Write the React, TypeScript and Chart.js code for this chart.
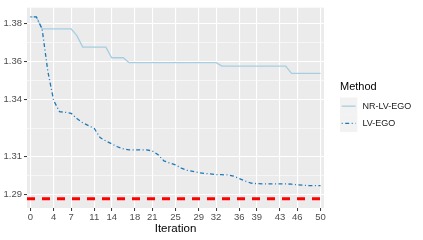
import React, { useEffect, useRef } from "react";
import { Chart, registerables } from "chart.js";

Chart.register(...registerables);

const iterations = [
  0, 1, 2, 3, 4, 5, 6, 7, 8, 9, 10, 11, 12, 13, 14, 15, 16, 17, 18, 19, 20,
  21, 22, 23, 24, 25, 26, 27, 28, 29, 30, 31, 32, 33, 34, 35, 36, 37, 38, 39,
  40, 41, 42, 43, 44, 45, 46, 47, 48, 49, 50,
];

const nrLvEgo = [
  1.3835, 1.3835, 1.3772, 1.3772, 1.3772, 1.3772, 1.3772, 1.3772, 1.3736, 1.3676,
  1.3676, 1.3676, 1.3676, 1.3676, 1.362, 1.362, 1.362, 1.3594, 1.3594, 1.3594,
  1.3594, 1.3594, 1.3594, 1.3594, 1.3594, 1.3594, 1.3594, 1.3594, 1.3594, 1.3594,
  1.3594, 1.3594, 1.3594, 1.3576, 1.3576, 1.3576, 1.3576, 1.3576, 1.3576, 1.3576,
  1.3576, 1.3576, 1.3576, 1.3576, 1.3576, 1.3538, 1.3538, 1.3538, 1.3538, 1.3538,
  1.3538,
];

const lvEgo = [
  1.3835, 1.3835, 1.3772, 1.3547, 1.3395, 1.3337, 1.3333, 1.3328, 1.33, 1.3278,
  1.3263, 1.3248, 1.32, 1.3182, 1.3167, 1.3152, 1.3141, 1.3136, 1.3136, 1.3136,
  1.3136, 1.313, 1.311, 1.3078, 1.3066, 1.3057, 1.304, 1.3028, 1.3022, 1.3016,
  1.3012, 1.3009, 1.3006, 1.3005, 1.3004, 1.2998, 1.2985, 1.2972, 1.2961, 1.2958,
  1.2957, 1.2957, 1.2957, 1.2957, 1.2957, 1.2955, 1.2952, 1.295, 1.2948, 1.2948,
  1.2948,
];

const referenceValue = 1.2878;

const xTicks = [0, 4, 7, 11, 14, 18, 21, 25, 29, 32, 36, 39, 43, 46, 50];
const yMajorTicks = [1.29, 1.31, 1.34, 1.36, 1.38];
const yMinorTicks = [1.3, 1.325, 1.35, 1.37];

const seriesNames = ["NR-LV-EGO", "LV-EGO"];
const legendTitle = "Method";
const xTitle = "Iteration";

const FONT = "'Liberation Sans', Arial, sans-serif";
const LIGHT = "#A6CEE3";
const DARK = "#1F78B4";
const DOTDASH = [1, 2.5, 4, 2.5];

const isMinor = (v: number) => yMinorTicks.some((m) => Math.abs(m - v) < 1e-9);

const panelBg = {
  id: "panelBg",
  beforeDraw(chart: any) {
    const { ctx, chartArea } = chart;
    ctx.save();
    ctx.fillStyle = "#EBEBEB";
    ctx.fillRect(chartArea.left, chartArea.top, chartArea.right - chartArea.left, chartArea.bottom - chartArea.top);
    ctx.restore();
  },
};

const ggLegend = {
  id: "ggLegend",
  afterDraw(chart: any) {
    const { ctx } = chart;
    ctx.save();
    ctx.fillStyle = "#000000";
    ctx.font = `11px ${FONT}`;
    ctx.textBaseline = "middle";
    ctx.textAlign = "left";
    ctx.fillText(legendTitle, 340, 87);
    const colors = [LIGHT, DARK];
    const dashes = [[], DOTDASH];
    for (let i = 0; i < seriesNames.length; i++) {
      const top = 97.5 + i * 17.3;
      ctx.fillStyle = "#F2F2F2";
      ctx.fillRect(340, top, 17.3, 17.3);
      const cy = top + 8.65;
      ctx.beginPath();
      ctx.setLineDash(dashes[i]);
      ctx.strokeStyle = colors[i];
      ctx.lineWidth = 1.3;
      ctx.moveTo(341.7, cy);
      ctx.lineTo(355.6, cy);
      ctx.stroke();
      ctx.setLineDash([]);
      ctx.fillStyle = "#1A1A1A";
      ctx.font = `9px ${FONT}`;
      ctx.fillText(seriesNames[i], 362.5, cy);
    }
    ctx.restore();
  },
};

export default function App() {
  const canvasRef = useRef<HTMLCanvasElement | null>(null);

  useEffect(() => {
    const canvas = canvasRef.current;
    if (!canvas) return;
    const chart = new Chart(canvas, {
      type: "line",
      data: {
        datasets: [
          {
            label: "ref",
            data: [
              { x: -0.6, y: referenceValue },
              { x: 50.6, y: referenceValue },
            ],
            borderColor: "#FF0000",
            borderWidth: 3,
            borderDash: [8, 7],
            pointRadius: 0,
            fill: false,
            order: 3,
          },
          {
            label: seriesNames[0],
            data: iterations.map((x, i) => ({ x, y: nrLvEgo[i] })),
            borderColor: LIGHT,
            borderWidth: 1.3,
            pointRadius: 0,
            tension: 0,
            fill: false,
            order: 2,
          },
          {
            label: seriesNames[1],
            data: iterations.map((x, i) => ({ x, y: lvEgo[i] })),
            borderColor: DARK,
            borderWidth: 1.3,
            borderDash: DOTDASH,
            pointRadius: 0,
            tension: 0,
            fill: false,
            order: 1,
          },
        ],
      },
      options: {
        animation: false,
        responsive: false,
        devicePixelRatio: 1,
        events: [],
        layout: { padding: { top: 5, right: 99, left: 0, bottom: 0 } },
        plugins: {
          legend: { display: false },
          tooltip: { enabled: false },
        },
        scales: {
          x: {
            type: "linear",
            min: -0.6,
            max: 50.6,
            afterBuildTicks: (scale: any) => {
              scale.ticks = xTicks.map((v) => ({ value: v }));
            },
            afterFit: (scale: any) => {
              scale.height = 32;
            },
            border: { display: false },
            grid: {
              color: "#FFFFFF",
              lineWidth: 1.1,
              drawTicks: true,
              tickLength: 3,
              tickColor: "#333333",
              tickWidth: 1,
            },
            ticks: {
              autoSkip: false,
              maxRotation: 0,
              padding: 1,
              color: "#4D4D4D",
              font: { family: FONT, size: 9.5 },
              callback: (v: any) => String(v),
            },
            title: {
              display: true,
              text: xTitle,
              color: "#000000",
              font: { family: FONT, size: 11.5 },
              padding: { top: 0, bottom: 4 },
            },
          },
          y: {
            type: "linear",
            min: 1.283,
            max: 1.3883,
            afterBuildTicks: (scale: any) => {
              scale.ticks = [...yMajorTicks, ...yMinorTicks]
                .sort((a, b) => a - b)
                .map((v) => ({ value: v }));
            },
            afterFit: (scale: any) => {
              scale.width = 27;
            },
            border: { display: false },
            grid: {
              color: "#FFFFFF",
              lineWidth: (c: any) => (c.tick && isMinor(c.tick.value) ? 0.55 : 1.1),
              drawTicks: true,
              tickLength: 3,
              tickColor: (c: any) => (c.tick && isMinor(c.tick.value) ? "rgba(0,0,0,0)" : "#333333"),
              tickWidth: 1,
            },
            ticks: {
              autoSkip: false,
              padding: 2,
              color: "#4D4D4D",
              font: { family: FONT, size: 9.5 },
              callback: (v: any) => (isMinor(Number(v)) ? "" : Number(v).toFixed(2)),
            },
          },
        },
      },
      plugins: [panelBg, ggLegend],
    } as any);
    return () => chart.destroy();
  }, []);

  return (
    <div style={{ position: "absolute", left: 0, top: 0, width: 423, height: 240, background: "#FFFFFF" }}>
      <canvas ref={canvasRef} width={423} height={240} />
    </div>
  );
}
